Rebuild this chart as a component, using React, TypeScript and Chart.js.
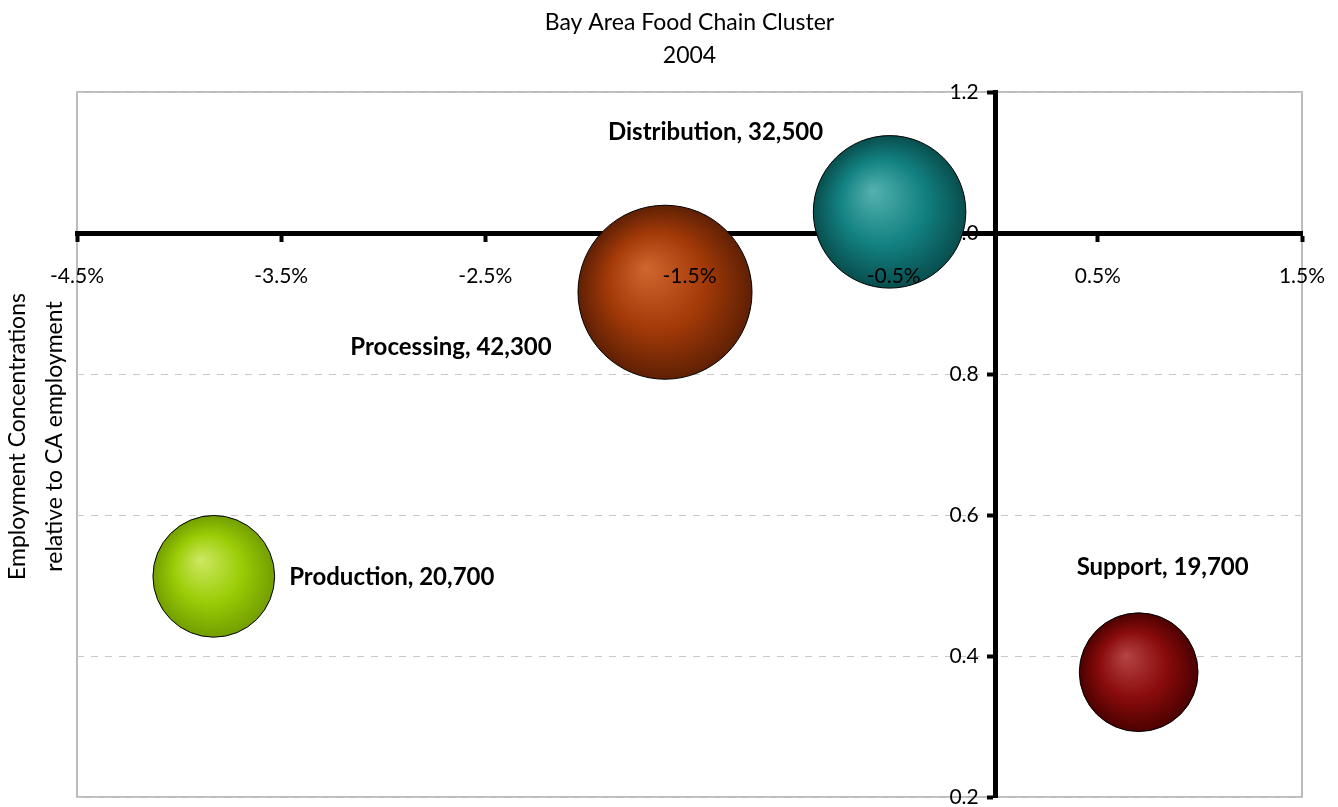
import React, { useEffect, useRef } from "react";
import { Chart, registerables } from "chart.js";

Chart.register(...registerables);

// ---- data ----
const sectors = ["Distribution", "Processing", "Production", "Support"];
const employmentGrowth = [-0.52, -1.62, -3.83, 0.7]; // % change, x axis
const concentration = [1.03, 0.916, 0.513, 0.377]; // relative to CA, y axis
const employment = [32500, 42300, 20700, 19700]; // bubble size
const xTickValues = [-4.5, -3.5, -2.5, -1.5, -0.5, 0.5, 1.5];
const yTickValues = [0.2, 0.4, 0.6, 0.8, 1.0, 1.2];
const titleLines = ["Bay Area Food Chain Cluster", "2004"];
const yTitleLines = ["Employment Concentrations", "relative to CA employment"];

// ---- style ----
const bubbleShades = [
  { light: "#55b2af", mid: "#138282", dark: "#084e4e" },
  { light: "#d0662f", mid: "#a43a08", dark: "#5f2004" },
  { light: "#cde863", mid: "#9bcd06", dark: "#739e00" },
  { light: "#b44444", mid: "#8b0c0c", dark: "#4c0000" },
];
const labelOffsets = [
  [-174, -80],
  [-214, 55],
  [178, 1],
  [24, -105],
];
const SIZE_FACTOR = 0.423;
const FONT = "Lato, 'Open Sans', sans-serif";

export default function App() {
  const ref = useRef<HTMLCanvasElement | null>(null);

  useEffect(() => {
    document.body.style.margin = "0";
    const canvas = ref.current;
    if (!canvas) return;

    const points = sectors.map((_, i) => ({
      x: employmentGrowth[i],
      y: concentration[i],
      r: SIZE_FACTOR * Math.sqrt(employment[i]),
    }));

    const shade = (ctx: any) => {
      const i = ctx.dataIndex ?? 0;
      const c = bubbleShades[i];
      const chart = ctx.chart;
      const xs = chart.scales?.x;
      const ys = chart.scales?.y;
      if (ctx.type !== "data" || !xs || !ys || !chart.chartArea) return c.mid;
      const p = points[i];
      const cx = xs.getPixelForValue(p.x);
      const cy = ys.getPixelForValue(p.y);
      const r = p.r;
      if (!isFinite(cx) || !isFinite(cy)) return c.mid;
      const g = chart.ctx.createRadialGradient(cx - 0.22 * r, cy - 0.28 * r, 0, cx, cy, r);
      g.addColorStop(0, c.light);
      g.addColorStop(0.55, c.mid);
      g.addColorStop(1, c.dark);
      return g;
    };

    const zeroBox = (s: any) => {
      if (s.isHorizontal()) s.height = 0;
      else s.width = 0;
      s.paddingLeft = 0;
      s.paddingRight = 0;
      s.paddingTop = 0;
      s.paddingBottom = 0;
    };

    const frame = {
      id: "frame",
      beforeDraw(chart: any) {
        const { ctx, chartArea: a } = chart;
        ctx.save();
        ctx.strokeStyle = "#a6a6a6";
        ctx.lineWidth = 1.5;
        ctx.strokeRect(a.left, a.top, a.right - a.left, a.bottom - a.top);
        ctx.restore();
      },
    };

    // y tick labels: placed left of the crossing y axis, under the bubbles
    const yTickLabels = {
      id: "yTickLabels",
      beforeDatasetsDraw(chart: any) {
        const { ctx } = chart;
        const ys = chart.scales.y;
        const axisX = chart.scales.x.getPixelForValue(0);
        ctx.save();
        ctx.font = `21px ${FONT}`;
        ctx.fillStyle = "#000";
        ctx.textAlign = "right";
        ctx.textBaseline = "middle";
        ys.ticks.forEach((t: any) => {
          ctx.fillText(Number(t.value).toFixed(1), axisX - 17, ys.getPixelForValue(t.value));
        });
        ctx.restore();
      },
    };

    const bubbleLabels = {
      id: "bubbleLabels",
      afterDatasetsDraw(chart: any) {
        const { ctx } = chart;
        const meta = chart.getDatasetMeta(0);
        ctx.save();
        ctx.font = `bold 24px ${FONT}`;
        ctx.fillStyle = "#000";
        ctx.textAlign = "center";
        ctx.textBaseline = "middle";
        meta.data.forEach((el: any, i: number) => {
          const text = `${sectors[i]}, ${employment[i].toLocaleString("en-US")}`;
          ctx.fillText(text, el.x + labelOffsets[i][0], el.y + labelOffsets[i][1]);
        });
        ctx.restore();
      },
    };

    const yTitle = {
      id: "yTitle",
      afterDraw(chart: any) {
        const { ctx, chartArea: a } = chart;
        const cy = (a.top + a.bottom) / 2 - 8;
        ctx.save();
        ctx.font = `23px ${FONT}`;
        ctx.fillStyle = "#000";
        ctx.textAlign = "center";
        ctx.textBaseline = "middle";
        ctx.translate(0, cy);
        ctx.rotate(-Math.PI / 2);
        yTitleLines.forEach((line, k) => ctx.fillText(line, 0, 18 + k * 37));
        ctx.restore();
      },
    };

    const setXTicks = (s: any) => {
      s.ticks = xTickValues.map((v) => ({ value: v }));
    };

    const chart = new Chart(canvas, {
      type: "bubble",
      data: {
        datasets: [
          {
            label: "Food Chain Cluster",
            data: points,
            backgroundColor: shade,
            borderColor: "#000",
            borderWidth: 1,
            xAxisID: "x",
            yAxisID: "y",
          },
        ],
      },
      options: {
        responsive: false,
        animation: false,
        devicePixelRatio: 1,
        layout: { autoPadding: false, padding: { left: 77, right: 36, top: 0, bottom: 10 } },
        plugins: {
          legend: { display: false },
          tooltip: { enabled: false },
          title: {
            display: true,
            text: titleLines,
            color: "#000",
            font: { family: FONT, size: 23, weight: "normal", lineHeight: 1.435 },
            padding: { top: 6, bottom: 20 },
          },
        },
        scales: {
          x: {
            type: "linear",
            min: -4.5,
            max: 1.5,
            position: { y: 1.0 },
            afterBuildTicks: setXTicks,
            afterFit: zeroBox,
            grid: {
              display: true,
              drawOnChartArea: false,
              drawTicks: true,
              tickLength: 6,
              tickWidth: 4,
              tickColor: "#000",
            },
            border: { display: true, width: 5, color: "#000" },
            ticks: { display: false },
          },
          xLabels: {
            type: "linear",
            axis: "x",
            min: -4.5,
            max: 1.5,
            position: { y: 1.0 },
            afterBuildTicks: setXTicks,
            afterFit: zeroBox,
            grid: { display: false, drawTicks: false },
            border: { display: false },
            ticks: {
              z: 1,
              color: "#000",
              font: { family: FONT, size: 21 },
              padding: 31,
              maxRotation: 0,
              autoSkip: false,
              callback: (v: any) => `${Number(v).toFixed(1)}%`,
            },
          },
          y: {
            type: "linear",
            min: 0.2,
            max: 1.2,
            position: { x: 0 },
            afterBuildTicks: (s: any) => {
              s.ticks = yTickValues.map((v) => ({ value: v }));
            },
            afterFit: zeroBox,
            grid: {
              display: true,
              drawOnChartArea: true,
              color: "#c8c8c8",
              lineWidth: 1,
              drawTicks: true,
              tickLength: 6,
              tickWidth: 4,
              tickColor: "#000",
            },
            border: { display: true, width: 5, color: "#000", dash: [7, 7] },
            ticks: { display: false },
          },
        },
      },
      plugins: [frame, yTickLabels, bubbleLabels, yTitle],
    });

    return () => chart.destroy();
  }, []);

  return (
    <div style={{ width: 1338, height: 807 }}>
      <canvas ref={ref} width={1338} height={807} style={{ width: 1338, height: 807, display: "block" }} />
    </div>
  );
}
